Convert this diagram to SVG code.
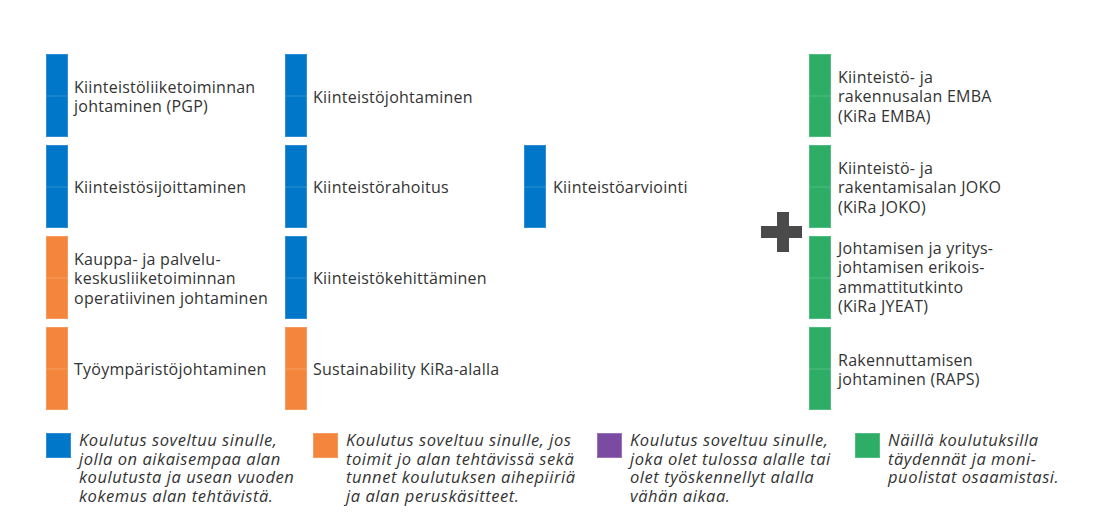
<svg xmlns="http://www.w3.org/2000/svg" width="1100" height="519" viewBox="0 0 1100 519">
<style>
.t{font-family:"Open Sans","Liberation Sans",sans-serif;font-size:16px;letter-spacing:0.25px;fill:#333333}
.l{font-family:"Open Sans","Liberation Sans",sans-serif;font-size:16.5px;letter-spacing:0.55px;font-style:italic;fill:#333333}
.b{fill:#0077C8;stroke:#2E8FD4;stroke-width:1}
.o{fill:#F4853C;stroke:#F79A5C;stroke-width:1}
.g{fill:#2EAD66;stroke:#52BD82;stroke-width:1}
.p{fill:#7A4BA0;stroke:#9A72BA;stroke-width:1}
.m{stroke:#ffffff;stroke-opacity:0.18;stroke-width:1}
</style>
<rect width="1100" height="519" fill="#ffffff"/>
<g id="n1"><rect class="b" x="46.5" y="54.5" width="21" height="82"/><line class="m" x1="46" y1="96" x2="68" y2="96"/><text class="t" x="74"><tspan x="74" y="92.5">Kiinteistöliiketoiminnan</tspan><tspan x="74" y="112">johtaminen (PGP)</tspan></text></g>
<g id="n2"><rect class="b" x="46.5" y="145.5" width="21" height="82"/><line class="m" x1="46" y1="187" x2="68" y2="187"/><text class="t" x="74" y="193">Kiinteistösijoittaminen</text></g>
<g id="n3"><rect class="o" x="46.5" y="236.5" width="21" height="82"/><line class="m" x1="46" y1="278" x2="68" y2="278"/><text class="t"><tspan x="74" y="264.5">Kauppa- ja palvelu-</tspan><tspan x="74" y="284">keskusliiketoiminnan</tspan><tspan x="74" y="303.5">operatiivinen johtaminen</tspan></text></g>
<g id="n4"><rect class="o" x="46.5" y="327.5" width="21" height="82"/><line class="m" x1="46" y1="369" x2="68" y2="369"/><text class="t" x="74" y="375">Työympäristöjohtaminen</text></g>
<g id="n5"><rect class="b" x="285.5" y="54.5" width="21" height="82"/><line class="m" x1="285" y1="96" x2="307" y2="96"/><text class="t" x="313" y="103">Kiinteistöjohtaminen</text></g>
<g id="n6"><rect class="b" x="285.5" y="145.5" width="21" height="82"/><line class="m" x1="285" y1="187" x2="307" y2="187"/><text class="t" x="313" y="193">Kiinteistörahoitus</text></g>
<g id="n7"><rect class="b" x="285.5" y="236.5" width="21" height="82"/><line class="m" x1="285" y1="278" x2="307" y2="278"/><text class="t" x="313" y="284">Kiinteistökehittäminen</text></g>
<g id="n8"><rect class="o" x="285.5" y="327.5" width="21" height="82"/><line class="m" x1="285" y1="369" x2="307" y2="369"/><text class="t" x="313" y="375">Sustainability KiRa-alalla</text></g>
<g id="n9"><rect class="b" x="524.5" y="145.5" width="21" height="82"/><line class="m" x1="524" y1="187" x2="546" y2="187"/><text class="t" x="553" y="193">Kiinteistöarviointi</text></g>
<g id="plus"><path d="M777 212h12v14h13v12h-13v14h-12v-14h-16v-12h16z" fill="#4A4A4A"/></g>
<g id="n10"><rect class="g" x="809.5" y="54.5" width="21" height="82"/><line class="m" x1="809" y1="96" x2="831" y2="96"/><text class="t"><tspan x="838" y="82.5">Kiinteistö- ja</tspan><tspan x="838" y="102">rakennusalan EMBA</tspan><tspan x="838" y="121.5">(KiRa EMBA)</tspan></text></g>
<g id="n11"><rect class="g" x="809.5" y="145.5" width="21" height="82"/><line class="m" x1="809" y1="187" x2="831" y2="187"/><text class="t"><tspan x="838" y="173.5">Kiinteistö- ja</tspan><tspan x="838" y="193">rakentamisalan JOKO</tspan><tspan x="838" y="212.5">(KiRa JOKO)</tspan></text></g>
<g id="n12"><rect class="g" x="809.5" y="236.5" width="21" height="82"/><line class="m" x1="809" y1="278" x2="831" y2="278"/><text class="t"><tspan x="838" y="253.5">Johtamisen ja yritys-</tspan><tspan x="838" y="273">johtamisen erikois-</tspan><tspan x="838" y="292.5">ammattitutkinto</tspan><tspan x="838" y="312">(KiRa JYEAT)</tspan></text></g>
<g id="n13"><rect class="g" x="809.5" y="327.5" width="21" height="82"/><line class="m" x1="809" y1="369" x2="831" y2="369"/><text class="t"><tspan x="838" y="365.5">Rakennuttamisen</tspan><tspan x="838" y="385">johtaminen (RAPS)</tspan></text></g>
<g id="legend">
<rect class="b" x="46.5" y="433.5" width="24" height="24"/>
<text class="l"><tspan x="79" y="446">Koulutus soveltuu sinulle,</tspan><tspan x="79" y="464.5">jolla on aikaisempaa alan</tspan><tspan x="79" y="483">koulutusta ja usean vuoden</tspan><tspan x="79" y="501.5">kokemus alan tehtävistä.</tspan></text>
<rect class="o" x="313.5" y="433.5" width="24" height="24"/>
<text class="l"><tspan x="346" y="446">Koulutus soveltuu sinulle, jos</tspan><tspan x="346" y="464.5">toimit jo alan tehtävissä sekä</tspan><tspan x="346" y="483">tunnet koulutuksen aihepiiriä</tspan><tspan x="346" y="501.5">ja alan peruskäsitteet.</tspan></text>
<rect class="p" x="597.5" y="433.5" width="24" height="24"/>
<text class="l"><tspan x="630" y="446">Koulutus soveltuu sinulle,</tspan><tspan x="630" y="464.5">joka olet tulossa alalle tai</tspan><tspan x="630" y="483">olet työskennellyt alalla</tspan><tspan x="630" y="501.5">vähän aikaa.</tspan></text>
<rect class="g" x="855.5" y="433.5" width="24" height="24"/>
<text class="l"><tspan x="888" y="446">Näillä koulutuksilla</tspan><tspan x="888" y="464.5">täydennät ja moni-</tspan><tspan x="888" y="483">puolistat osaamistasi.</tspan></text>
</g>
<g id="connectors"/>
</svg>
